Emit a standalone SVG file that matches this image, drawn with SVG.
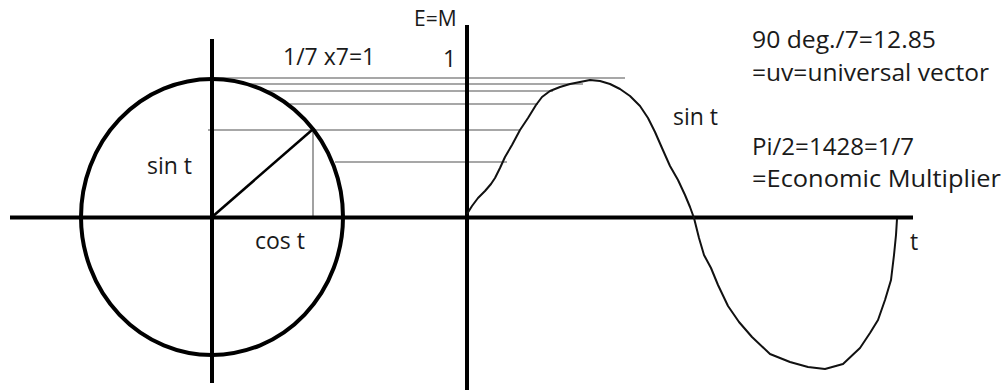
<svg xmlns="http://www.w3.org/2000/svg" width="1006" height="390" viewBox="0 0 1006 390">
<style>
.axis{stroke:#000;stroke-width:4;fill:none;stroke-linecap:butt}
.thin{stroke:#8a8a8a;stroke-width:1.6;fill:none}
.curve{stroke:#111;stroke-width:2;fill:none;stroke-linejoin:round}
text{font-family:"Open Sans","Liberation Sans",sans-serif;font-size:23px;fill:#1a1a1a}
.note{font-size:23px}
</style>
<rect width="1006" height="390" fill="#fff"/>
<g id="projection-lines">
<line class="thin" x1="212" y1="78" x2="625" y2="78"/>
<line class="thin" x1="247" y1="84" x2="583" y2="84"/>
<line class="thin" x1="265" y1="91" x2="553" y2="91"/>
<line class="thin" x1="290" y1="104" x2="538" y2="104"/>
<line class="thin" x1="208" y1="130" x2="520" y2="130"/>
<line class="thin" x1="335" y1="162" x2="507" y2="162"/>
<line class="thin" x1="313" y1="130" x2="313" y2="217"/>
</g>
<g id="circle">
<ellipse cx="212" cy="217" rx="131" ry="138" stroke="#000" stroke-width="4" fill="none"/>
<line x1="212" y1="217" x2="312" y2="130" stroke="#000" stroke-width="2.5"/>
</g>
<g id="axes">
<line class="axis" x1="10" y1="217.5" x2="913" y2="217.5"/>
<line class="axis" x1="212" y1="39" x2="212" y2="383"/>
<line class="axis" x1="467" y1="25" x2="467" y2="390"/>
</g>
<g id="sine-curve">
<polyline class="curve" points="467,214 472,206 478,198 485,191 491,184 495,178 500,168 505,157 512,145 520,130 528,118 536,105 542,97 550,91 560,87 570,84 580,82 590,80 600,81 610,84 620,89 630,96 640,106 648,118 655,132 662,148 670,166 678,180 685,195 690,207 694,218 699,238 704,255 711,268 718,285 728,306 739,322 752,337 770,354 790,362 808,367 825,369 843,364 860,348 870,333 878,320 885,300 891,280 894,255 896,235 897,219"/>
</g>
<g id="labels">
<text x="414" y="26" style="font-size:21px">E=M</text>
<text x="443" y="67">1</text>
<text x="283" y="65">1/7 x7=1</text>
<text x="147" y="174">sin t</text>
<text x="255" y="249">cos t</text>
<text x="673" y="125">sin t</text>
<text x="910" y="250">t</text>
<text class="note" x="752" y="48" textLength="184" lengthAdjust="spacingAndGlyphs">90 deg./7=12.85</text>
<text class="note" x="752" y="81" textLength="237" lengthAdjust="spacingAndGlyphs">=uv=universal vector</text>
<text class="note" x="752" y="155" textLength="162" lengthAdjust="spacingAndGlyphs">Pi/2=1428=1/7</text>
<text class="note" x="752" y="187" textLength="249" lengthAdjust="spacingAndGlyphs">=Economic Multiplier</text>
</g>
</svg>
